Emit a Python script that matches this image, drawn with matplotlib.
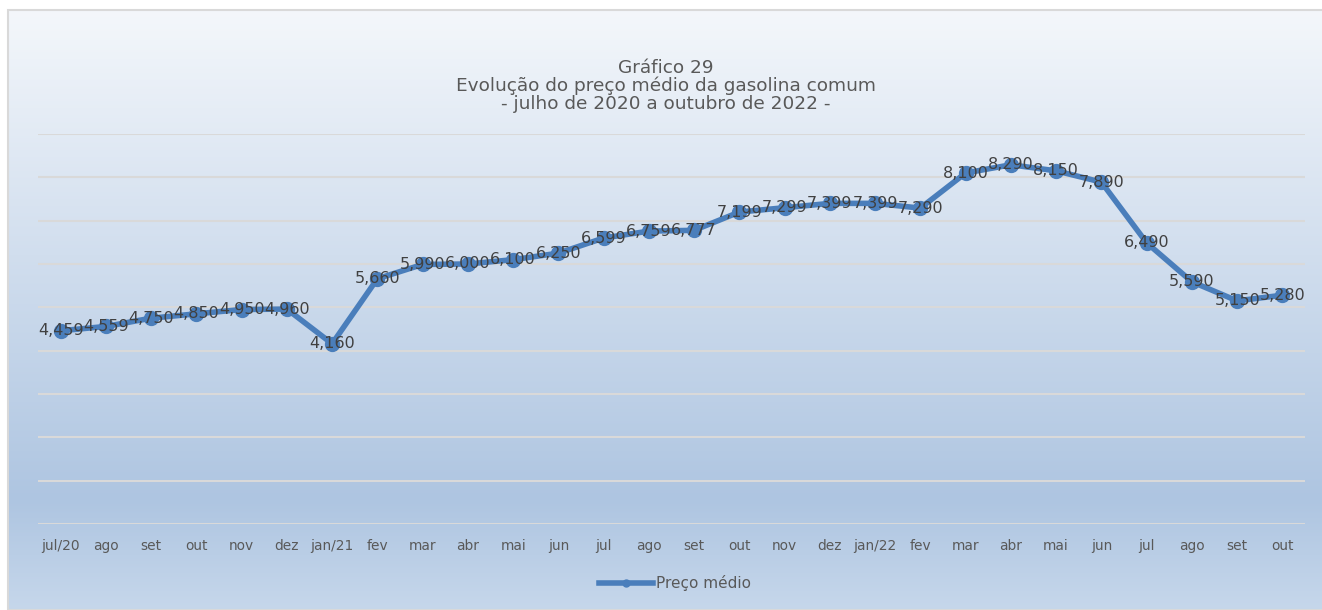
import numpy as np
import matplotlib
matplotlib.use("Agg")
import matplotlib.pyplot as plt
from matplotlib.lines import Line2D
from matplotlib.patches import Rectangle

# ---- data ----
months = ["jul/20", "ago", "set", "out", "nov", "dez", "jan/21", "fev", "mar", "abr",
          "mai", "jun", "jul", "ago", "set", "out", "nov", "dez", "jan/22", "fev",
          "mar", "abr", "mai", "jun", "jul", "ago", "set", "out"]
preco = [4.459, 4.559, 4.750, 4.850, 4.950, 4.960, 4.160, 5.660, 5.990, 6.000,
         6.100, 6.250, 6.599, 6.759, 6.777, 7.199, 7.299, 7.399, 7.399, 7.290,
         8.100, 8.290, 8.150, 7.890, 6.490, 5.590, 5.150, 5.280]
series_name = "Preço médio"
title_lines = ["Gráfico 29",
               "Evolução do preço médio da gasolina comum",
               "- julho de 2020 a outubro de 2022 -"]

W, H = 1322, 610
fig = plt.figure(figsize=(W / 100, H / 100), dpi=100)
fig.patch.set_facecolor("white")

# ---- gradient background ----
bg = fig.add_axes([8 / W, 0, 1 - 8 / W, 1 - 10 / H], zorder=-5)
ys = np.linspace(10, 610, 600)
stops_y = [10, 500, 610]
stops_c = np.array([[244, 247, 251], [174, 197, 225], [198, 215, 235]]) / 255.0
grad = np.stack([np.interp(ys, stops_y, stops_c[:, k]) for k in range(3)], axis=-1)
grad = grad[:, None, :]
bg.imshow(grad, aspect="auto", extent=[0, 1, 0, 1], origin="upper")
bg.set_xlim(0, 1)
bg.set_ylim(0, 1)
bg.axis("off")
bg.add_patch(Rectangle((0, 0), 1.2, 1, fill=False, edgecolor="#d9d9d9",
                       linewidth=1.5, transform=bg.transAxes, clip_on=False))

# ---- main axes ----
left, right, top, bottom = 38, 1305, 134, 524
ax = fig.add_axes([left / W, 1 - bottom / H, (right - left) / W, (bottom - top) / H])
ax.set_facecolor("none")
x = np.arange(len(months))
ax.set_xlim(-0.5, len(months) - 0.5)
ax.set_ylim(0, 9)
ax.set_yticks(np.arange(0, 10, 1))
ax.yaxis.grid(True, color="#d9d9d9", linewidth=1.5)
ax.set_axisbelow(True)
for s in ax.spines.values():
    s.set_visible(False)
ax.tick_params(axis="y", left=False, labelleft=False)
ax.set_xticks(x)
ax.set_xticklabels(months)
ax.tick_params(axis="x", length=0, pad=11, labelsize=9.9, labelcolor="#595959")

color = "#4A7EBB"
ax.plot(x, preco, color=color, linewidth=4.0, marker="o", markersize=10,
        markerfacecolor=color, markeredgecolor=color, solid_capstyle="round", zorder=3)

for xi, v in zip(x, preco):
    ax.text(xi, v, f"{v:.3f}".replace(".", ","), ha="center", va="center",
            fontsize=11.5, color="#404040", zorder=4)

# ---- title ----
title_y = [68, 86, 104]
for t, yy in zip(title_lines, title_y):
    fig.text(666 / W, 1 - yy / H, t, ha="center", va="center", fontsize=13.3,
             color="#595959")

# ---- legend ----
handle = Line2D([0], [0], color=color, linewidth=4.0, marker="o", markersize=5,
                markerfacecolor=color, markeredgecolor=color)
fig.legend([handle], [series_name], loc="center", bbox_to_anchor=(675 / W, 1 - 583 / H),
           frameon=False, fontsize=11, labelcolor="#595959", handlelength=3.5,
           handletextpad=0.2)

fig.savefig("out.png", dpi=100)
